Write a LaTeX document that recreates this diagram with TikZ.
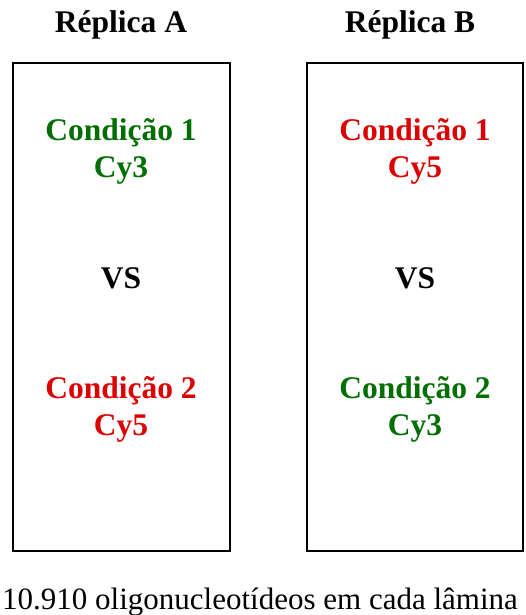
\documentclass[tikz,border=0pt]{standalone}
\usepackage{fontspec}
\setmainfont{Liberation Serif}
\definecolor{cgreen}{RGB}{0,110,0}
\definecolor{cred}{RGB}{220,0,0}
\begin{document}
\begin{tikzpicture}[x=1pt,y=-1pt,
  slide/.style={draw,line width=1.3pt},
  lab/.style={font=\bfseries\fontsize{31.5}{37}\selectfont,align=center,inner sep=0pt},
  title/.style={font=\bfseries\fontsize{31.5}{37}\selectfont,inner sep=0pt},
  foot/.style={font=\fontsize{31}{37}\selectfont,inner sep=0pt}]
\useasboundingbox (0,0) rectangle (526,615);
\draw[slide] (13,63) rectangle (230,551);
\draw[slide] (307,63) rectangle (523,551);
\node[title] (ta) at (121,25) {Réplica A};
\node[title] (tb) at (410,25) {Réplica B};
\node[lab,text=cgreen] (a1) at (121,151) {Condição 1\\Cy3};
\node[lab] (avs) at (121,278) {VS};
\node[lab,text=cred] (a2) at (121,409) {Condição 2\\Cy5};
\node[lab,text=cred] (b1) at (415,151) {Condição 1\\Cy5};
\node[lab] (bvs) at (415,278) {VS};
\node[lab,text=cgreen] (b2) at (415,409) {Condição 2\\Cy3};
\node[foot,anchor=base west] (ft) at (2,609) {10.910 oligonucleotídeos em cada lâmina};
\end{tikzpicture}
\end{document}
